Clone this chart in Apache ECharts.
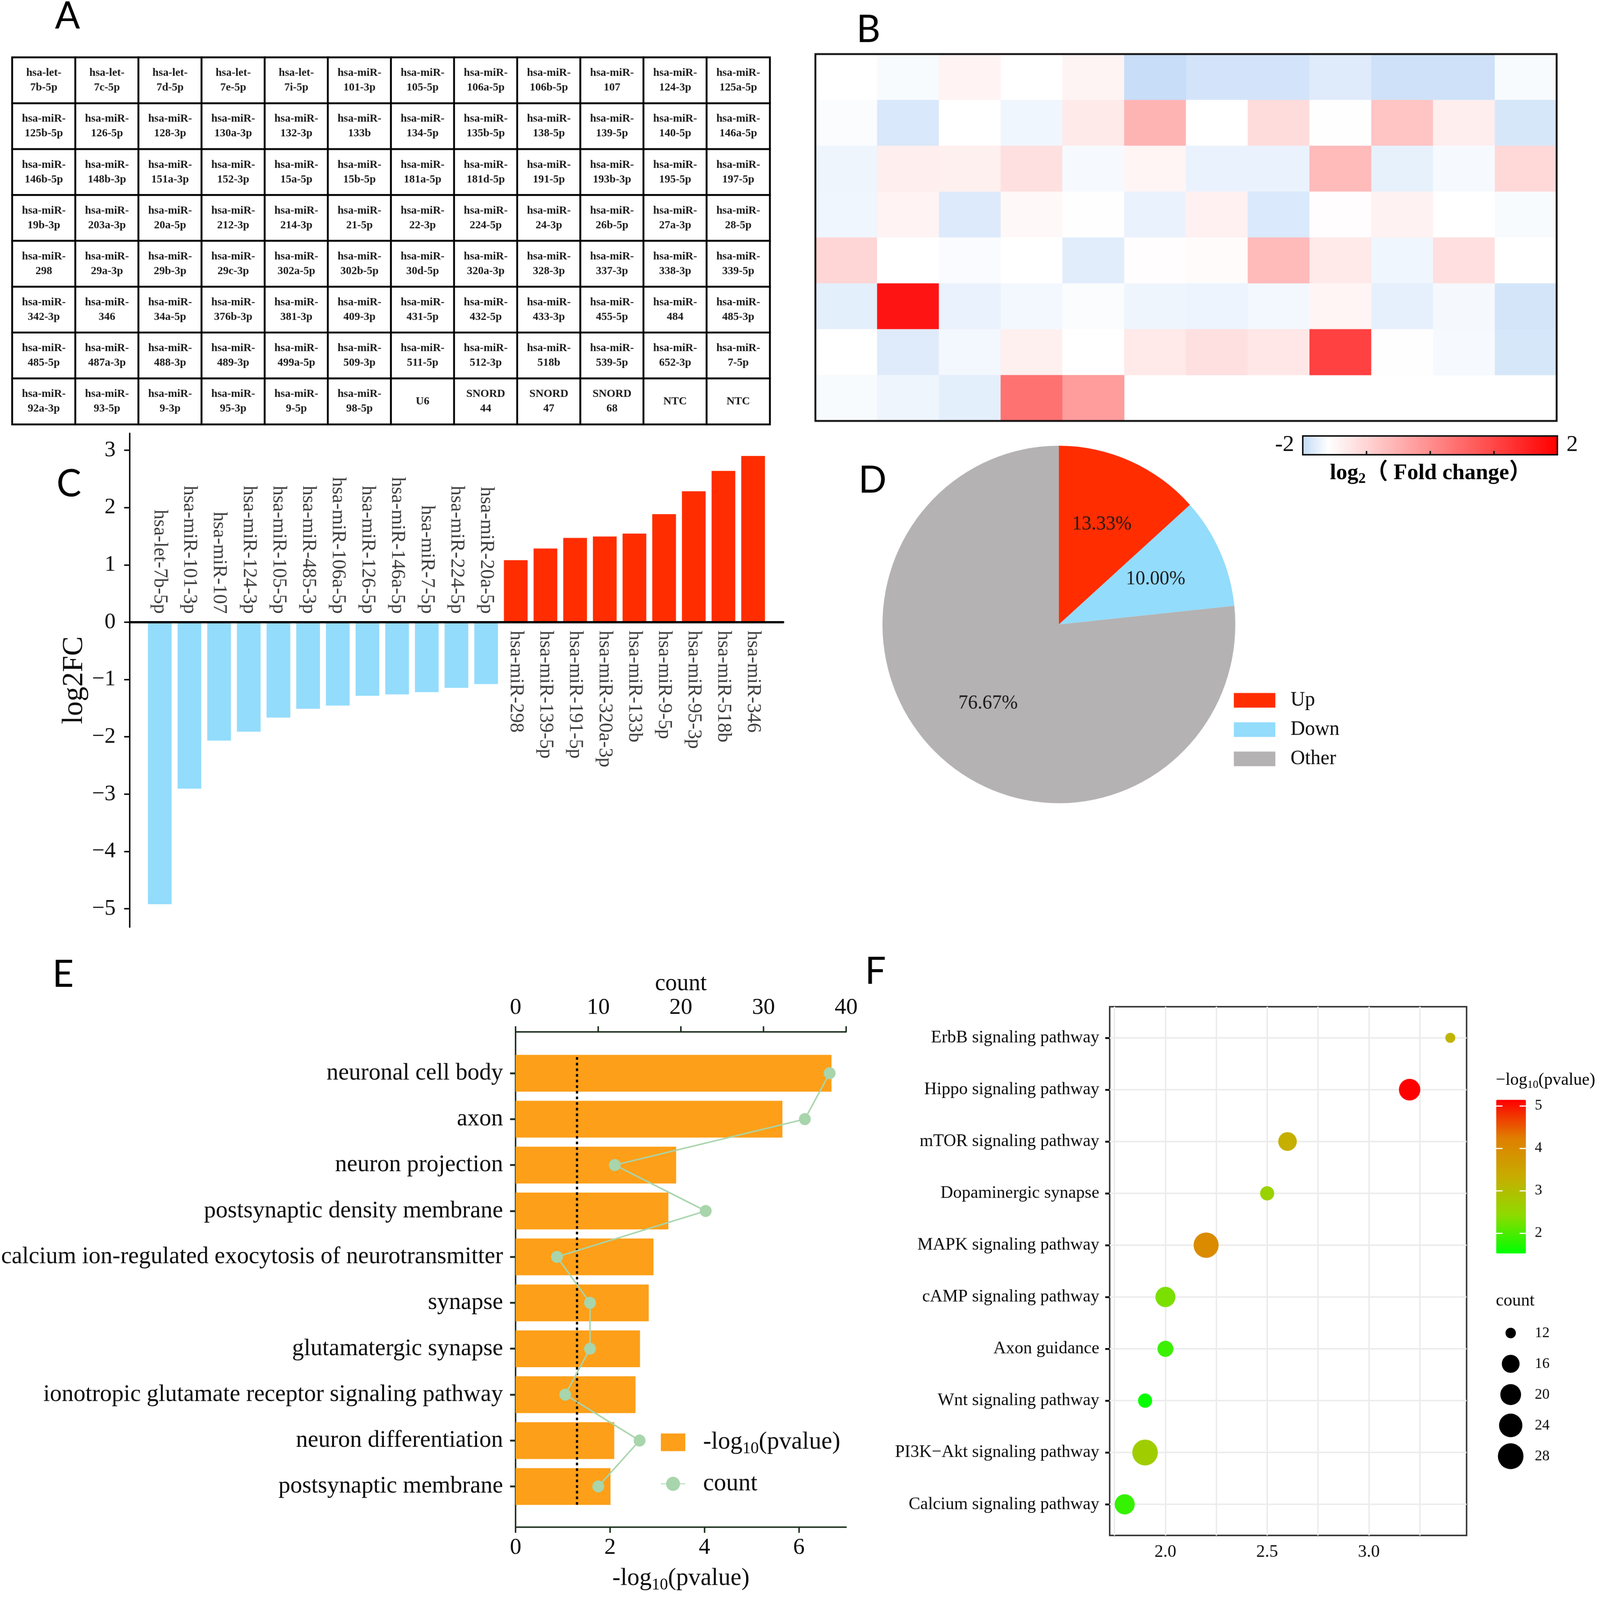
<!DOCTYPE html>
<html><head><meta charset="utf-8">
<style>html,body{margin:0;padding:0;background:#fff;overflow:hidden}#c{width:4317px;height:4261px;transform-origin:0 0}</style>
<script src="https://cdn.jsdelivr.net/npm/echarts@6/dist/echarts.min.js"></script>
</head><body><div id="c"></div>
<script>
// ---------- Panel A ----------
const P='hsa-miR-\n';
const plateRows=[
 ['hsa-let-\n7b-5p','hsa-let-\n7c-5p','hsa-let-\n7d-5p','hsa-let-\n7e-5p','hsa-let-\n7i-5p',P+'101-3p',P+'105-5p',P+'106a-5p',P+'106b-5p',P+'107',P+'124-3p',P+'125a-5p'],
 [P+'125b-5p',P+'126-5p',P+'128-3p',P+'130a-3p',P+'132-3p',P+'133b',P+'134-5p',P+'135b-5p',P+'138-5p',P+'139-5p',P+'140-5p',P+'146a-5p'],
 [P+'146b-5p',P+'148b-3p',P+'151a-3p',P+'152-3p',P+'15a-5p',P+'15b-5p',P+'181a-5p',P+'181d-5p',P+'191-5p',P+'193b-3p',P+'195-5p',P+'197-5p'],
 [P+'19b-3p',P+'203a-3p',P+'20a-5p',P+'212-3p',P+'214-3p',P+'21-5p',P+'22-3p',P+'224-5p',P+'24-3p',P+'26b-5p',P+'27a-3p',P+'28-5p'],
 [P+'298',P+'29a-3p',P+'29b-3p',P+'29c-3p',P+'302a-5p',P+'302b-5p',P+'30d-5p',P+'320a-3p',P+'328-3p',P+'337-3p',P+'338-3p',P+'339-5p'],
 [P+'342-3p',P+'346',P+'34a-5p',P+'376b-3p',P+'381-3p',P+'409-3p',P+'431-5p',P+'432-5p',P+'433-3p',P+'455-5p',P+'484',P+'485-3p'],
 [P+'485-5p',P+'487a-3p',P+'488-3p',P+'489-3p',P+'499a-5p',P+'509-3p',P+'511-5p',P+'512-3p',P+'518b',P+'539-5p',P+'652-3p',P+'7-5p'],
 [P+'92a-3p',P+'93-5p',P+'9-3p',P+'95-3p',P+'9-5p',P+'98-5p','U6','SNORD\n44','SNORD\n47','SNORD\n68','NTC','NTC']
];
// ---------- Panel B ----------
const heatRows=[
 [-1.6,-1.65,-1.43,-1.6,-1.44,-1.98,-1.9,-1.9,-1.82,-1.93,-1.93,-1.65],
 [-1.63,-1.86,-1.6,-1.7,-1.30,-0.54,-1.6,-1.11,-1.61,-0.77,-1.36,-1.87],
 [-1.71,-1.36,-1.39,-1.16,-1.66,-1.46,-1.74,-1.74,-0.63,-1.76,-1.66,-1.05],
 [-1.70,-1.43,-1.83,-1.5,-1.58,-1.74,-1.40,-1.85,-1.57,-1.42,-1.6,-1.65],
 [-1.02,-1.6,-1.64,-1.6,-1.8,-1.57,-1.54,-0.63,-1.28,-1.7,-1.15,-1.6],
 [-1.78,1.72,-1.74,-1.68,-1.63,-1.71,-1.72,-1.68,-1.46,-1.77,-1.67,-1.89],
 [-1.6,-1.82,-1.68,-1.39,-1.6,-1.28,-1.16,-1.25,1.08,-1.58,-1.66,-1.87],
 [-1.65,-1.71,-1.78,0.38,-0.2,null,null,null,null,null,null,null]
];
const heatColors=['#c4dbf8','#ffffff','#ffe3e3','#ffc6c6','#ffaaaa','#ff8e8e','#ff7171','#ff5555','#ff3939','#ff1c1c','#ff0000'];
const heatTicks=[-2,-1,0,1,2];
// ---------- Panel C ----------
const downNames=['hsa-let-7b-5p','hsa-miR-101-3p','hsa-miR-107','hsa-miR-124-3p','hsa-miR-105-5p','hsa-miR-485-3p','hsa-miR-106a-5p','hsa-miR-126-5p','hsa-miR-146a-5p','hsa-miR-7-5p','hsa-miR-224-5p','hsa-miR-20a-5p'];
const downValues=[-4.92,-2.905,-2.065,-1.91,-1.665,-1.51,-1.455,-1.285,-1.26,-1.22,-1.145,-1.08];
const upNames=['hsa-miR-298','hsa-miR-139-5p','hsa-miR-191-5p','hsa-miR-320a-3p','hsa-miR-133b','hsa-miR-9-5p','hsa-miR-95-3p','hsa-miR-518b','hsa-miR-346'];
const upValues=[1.083,1.286,1.47,1.495,1.545,1.885,2.285,2.64,2.90];
const fcTicks=[-5,-4,-3,-2,-1,0,1,2,3];
// ---------- Panel D ----------
const pieNames=['Up','Down','Other'];
const pieValues=[13.33,10.00,76.67];
const pieColors=['#ff2d00','#93dcfc','#b4b2b2'];
const pieLabelXY=[[2973,1396],[3118,1542],[2666,1873]];
// ---------- Panel E ----------
const goTerms=['neuronal cell body','axon','neuron projection','postsynaptic density membrane','calcium ion-regulated exocytosis of neurotransmitter','synapse','glutamatergic synapse','ionotropic glutamate receptor signaling pathway','neuron differentiation','postsynaptic membrane'];
const goP=[6.69,5.65,3.40,3.235,2.92,2.82,2.635,2.54,2.09,2.01];
const goCount=[38,35,12,23,5,9,9,6,15,10];
const goCut=1.3;
// ---------- Panel F ----------
const kegg=['ErbB signaling pathway','Hippo signaling pathway','mTOR signaling pathway','Dopaminergic synapse','MAPK signaling pathway','cAMP signaling pathway','Axon guidance','Wnt signaling pathway','PI3K\u2212Akt signaling pathway','Calcium signaling pathway'];
const keggRatio=[3.4,3.2,2.6,2.5,2.2,2.0,2.0,1.9,1.9,1.8];
const keggP=[3.2,5.14,3.3,2.6,4.0,2.3,1.9,1.55,2.7,1.85];
const keggCount=[11.5,21,17,14,27,19,15,14,28,19];
const sizeLevels=[12,16,20,24,28];
const sizeDiam=[28,48,56,63,69];
const keggColors=['#00ff00','#8fdb00','#c7ad00','#e07f00','#ff0000'];
const keggPTicks=[2,3,4,5];

const SERIF="'Liberation Serif','Noto Sans CJK SC',serif";
const INK='#0a0a0a';
const sizeOf=c=>{
  if(c<=sizeLevels[0])return sizeDiam[0]*c/sizeLevels[0];
  for(let i=1;i<sizeLevels.length;i++){
    if(c<=sizeLevels[i]){const t=(c-sizeLevels[i-1])/(sizeLevels[i]-sizeLevels[i-1]);return sizeDiam[i-1]+t*(sizeDiam[i]-sizeDiam[i-1]);}
  }
  return sizeDiam[sizeDiam.length-1];
};
const idx=n=>Array.from({length:n},(_,i)=>i);

const fcAll=downNames.concat(upNames), fcVals=downValues.concat(upValues);
const letter=(s,x,y)=>({type:'text',x,y,z:20,style:{text:s,font:"100px Lato",fill:'#000',textAlign:'center',textVerticalAlign:'middle'}});

const subRich=(size,sub,bold)=>({
  a:{fontFamily:SERIF,fontSize:size,color:INK,lineHeight:size*1.2,fontWeight:bold?'bold':'normal'},
  s:{fontFamily:SERIF,fontSize:sub,color:INK,lineHeight:size*1.2,verticalAlign:'bottom',fontWeight:bold?'bold':'normal'}
});

const option={
 animation:false,backgroundColor:'#fff',
 grid:[
  {left:33,top:153,width:2044,height:977},
  {left:2200,top:144,width:2000,height:977,show:true,backgroundColor:'transparent',borderColor:'#111',borderWidth:5,z:6},
  {left:350,top:1154,width:1763,height:1315},
  {left:1391,top:2748,width:892,height:1319},
  {left:1391,top:2797,width:892,height:1223},
  {left:2994,top:2681,width:963,height:1408,show:true,backgroundColor:'transparent',borderColor:'#333',borderWidth:4},
  {left:4066,top:3550,width:20,height:328},
  {left:4037,top:2929,width:80,height:409},
  {left:3515,top:1161,width:687,height:50,show:true,backgroundColor:'transparent',borderColor:'#111',borderWidth:4,z:6}
 ],
 xAxis:[
  {gridIndex:0,type:'category',data:idx(12),show:false},
  {gridIndex:1,type:'category',data:idx(12),show:false},
  {gridIndex:2,type:'value',min:-1.0125,max:21.0125,z:5,
    axisLine:{show:true,onZero:true,lineStyle:{color:'#000',width:6}},axisTick:{show:false},axisLabel:{show:false},splitLine:{show:false}},
  {gridIndex:3,type:'value',position:'bottom',min:0,max:7,interval:1,
    axisLine:{show:true,onZero:false,lineStyle:{color:'#1d2f1e',width:4}},
    axisTick:{show:true,length:15,customValues:[0,2,4,6],lineStyle:{color:'#1d2f1e',width:4}},
    axisLabel:{customValues:[0,2,4,6],margin:24,fontFamily:SERIF,fontSize:62,color:INK},splitLine:{show:false},
    name:'{a|-log}{s|10}{a|(pvalue)}',nameLocation:'middle',nameGap:97,nameTextStyle:{rich:subRich(66,44)}},
  {gridIndex:3,type:'value',position:'top',min:0,max:40,interval:10,
    axisLine:{show:true,onZero:false,lineStyle:{color:'#1d2f1e',width:4}},
    axisTick:{show:true,length:15,lineStyle:{color:'#1d2f1e',width:4}},
    axisLabel:{margin:33,fontFamily:SERIF,fontSize:62,color:INK},splitLine:{show:false},
    name:'count',nameLocation:'middle',nameGap:93,nameTextStyle:{fontFamily:SERIF,fontSize:63,color:INK}},
  {gridIndex:4,type:'value',min:0,max:7,show:false,splitLine:{show:false}},
  {gridIndex:5,type:'value',min:1.726,max:3.48,
    axisLine:{show:false},axisTick:{show:false,customValues:[1.75,2,2.25,2.5,2.75,3,3.25]},
    axisLabel:{customValues:[2,2.5,3],margin:21,fontFamily:SERIF,fontSize:47,color:INK,formatter:v=>v.toFixed(1)},
    splitLine:{show:true,lineStyle:{color:'#ececec',width:4}}},
  {gridIndex:6,type:'value',min:-1,max:1,show:false,splitLine:{show:false}},
  {gridIndex:7,type:'value',min:0,max:1,show:false,splitLine:{show:false}},
  {gridIndex:8,type:'value',min:-2,max:2,z:10,position:'top',
    axisLine:{show:false},axisTick:{show:true,length:10,customValues:heatTicks,lineStyle:{color:'#111',width:4}},
    axisLabel:{show:false},splitLine:{show:false}}
 ],
 yAxis:[
  {gridIndex:0,type:'category',data:idx(8),inverse:true,show:false},
  {gridIndex:1,type:'category',data:idx(8),inverse:true,show:false},
  {gridIndex:2,type:'value',min:-5.32,max:3.295,
    axisLine:{show:true,onZero:false,lineStyle:{color:'#111',width:4}},
    axisTick:{show:true,length:15,customValues:fcTicks,lineStyle:{color:'#111',width:4}},
    axisLabel:{customValues:fcTicks,margin:38,fontFamily:SERIF,fontSize:60,color:INK,formatter:v=>String(v).replace('-','\u2212')},
    splitLine:{show:false},
    name:'log2FC',nameLocation:'middle',nameRotate:90,nameGap:110,nameTextStyle:{fontFamily:SERIF,fontSize:78,color:INK}},
  {gridIndex:3,type:'value',inverse:true,min:-0.9,max:9.887,
    axisLine:{show:true,onZero:false,lineStyle:{color:'#1d2f1e',width:4}},
    axisTick:{show:true,length:15,customValues:idx(10),lineStyle:{color:'#1d2f1e',width:5}},
    axisLabel:{customValues:idx(10),margin:34,fontFamily:SERIF,fontSize:64,color:INK,formatter:v=>goTerms[v]},
    splitLine:{show:false}},
  {gridIndex:4,type:'category',data:goTerms,inverse:true,show:false},
  {gridIndex:5,type:'value',inverse:true,min:-0.6,max:9.6,
    axisLine:{show:false},
    axisTick:{show:true,length:12,customValues:idx(10),lineStyle:{color:'#111',width:5}},
    axisLabel:{customValues:idx(10),margin:28,fontFamily:SERIF,fontSize:47,color:INK,formatter:v=>kegg[v]},
    splitLine:{show:true,lineStyle:{color:'#ececec',width:4}}},
  {gridIndex:6,type:'value',inverse:true,min:12,max:28,position:'right',
    axisLine:{show:false},axisTick:{show:false},
    axisLabel:{customValues:sizeLevels,margin:55,fontFamily:SERIF,fontSize:40,color:INK},splitLine:{show:false}},
  {gridIndex:7,type:'value',min:1.52,max:5.14,position:'left',z:10,
    axisLine:{show:false},axisTick:{show:true,inside:true,length:17,customValues:keggPTicks,lineStyle:{color:'#fff',width:3}},
    axisLabel:{show:false},splitLine:{show:false}},
  {gridIndex:7,type:'value',min:1.52,max:5.14,position:'right',z:10,
    axisLine:{show:false},axisTick:{show:true,inside:true,length:17,customValues:keggPTicks,lineStyle:{color:'#fff',width:3}},
    axisLabel:{customValues:keggPTicks,margin:24,fontFamily:SERIF,fontSize:40,color:INK},splitLine:{show:false}},
  {gridIndex:8,type:'value',min:0,max:1,show:false,splitLine:{show:false}}
 ],
 visualMap:[
  {type:'continuous',seriesIndex:1,dimension:2,min:-2,max:2,left:3515,top:1161,padding:0,orient:'horizontal',
   itemWidth:50,itemHeight:687,calculable:false,hoverLink:false,showLabel:false,text:null,inRange:{color:heatColors}},
  {type:'continuous',seriesIndex:7,dimension:2,min:1.52,max:5.14,left:4037,top:2929,padding:0,orient:'vertical',
   itemWidth:80,itemHeight:409,calculable:false,hoverLink:false,showLabel:false,text:null,inRange:{color:keggColors}}
 ],
 legend:[
  {data:pieNames,orient:'vertical',left:3329,top:1838,padding:0,icon:'rect',itemWidth:112,itemHeight:39,itemGap:24,selectedMode:false,
   textStyle:{fontFamily:SERIF,fontSize:54,color:INK,padding:[0,0,0,36]}},
  {data:[{name:'-log10(pvalue)',icon:'rect'},{name:'count'}],orient:'vertical',left:1782,top:3808,padding:0,itemWidth:66,itemHeight:47,itemGap:38,selectedMode:false,
   formatter:n=>n==='count'?'{a|count}':'{a|-log}{s|10}{a|(pvalue)}',
   textStyle:{padding:[0,0,0,43],rich:subRich(66,44)}}
 ],
 series:[
  {type:'heatmap',xAxisIndex:0,yAxisIndex:0,
   data:plateRows.flatMap((r,y)=>r.map((n,x)=>({value:[x,y,1],name:n}))),
   itemStyle:{color:'#fff',borderColor:'#000',borderWidth:5},
   label:{show:true,formatter:p=>p.name,fontFamily:SERIF,fontWeight:'bold',fontSize:30,lineHeight:39,color:'#1a1a1a'},
   emphasis:{disabled:true}},
  {type:'heatmap',xAxisIndex:1,yAxisIndex:1,
   data:heatRows.flatMap((r,y)=>r.map((v,x)=>[x,y,v])).filter(d=>d[2]!==null),
   itemStyle:{borderWidth:0},emphasis:{disabled:true}},
  {type:'bar',xAxisIndex:2,yAxisIndex:2,barWidth:64,
   data:fcVals.map((v,i)=>({value:[i,v],itemStyle:{color:v<0?pieColors[1]:pieColors[0]}}))},
  {type:'scatter',xAxisIndex:2,yAxisIndex:2,symbolSize:1,itemStyle:{color:'transparent'},clip:false,
   data:fcAll.map((n,i)=>{const neg=fcVals[i]<0;return{
     value:[i,0],name:n,
     label:{show:true,formatter:'{b}',rotate:-90,position:neg?'top':'bottom',distance:22,align:neg?'right':'left',verticalAlign:'middle',fontFamily:SERIF,fontSize:52,color:INK}
   };})},
  {type:'pie',name:'D',center:[2857,1663],radius:476,startAngle:90,clockwise:true,
   data:pieNames.map((n,i)=>({name:n,value:pieValues[i],itemStyle:{color:pieColors[i]}})),
   label:{show:true,position:'inside',formatter:p=>p.value.toFixed(2)+'%',fontFamily:SERIF,fontSize:52,color:'#1a1a1a'},
   labelLine:{show:false},
   labelLayout:p=>({x:pieLabelXY[p.dataIndex][0],y:pieLabelXY[p.dataIndex][1],align:'center',verticalAlign:'middle'}),
   emphasis:{disabled:true}},
  {type:'bar',name:'-log10(pvalue)',xAxisIndex:5,yAxisIndex:4,barWidth:98,data:goP,itemStyle:{color:'#fd9f18'},z:1},
  {type:'line',name:'count',xAxisIndex:4,yAxisIndex:3,z:4,
   data:goCount.map((c,i)=>[c,i]),symbol:'circle',symbolSize:32,
   lineStyle:{color:'#a8d5ac',width:4},itemStyle:{color:'#a8d5ac'}},
  {type:'scatter',xAxisIndex:6,yAxisIndex:5,clip:false,z:4,
   data:keggRatio.map((x,i)=>[x,i,keggP[i],keggCount[i]]),
   symbolSize:v=>sizeOf(v[3]),itemStyle:{opacity:1},emphasis:{disabled:true}},
  {type:'scatter',xAxisIndex:7,yAxisIndex:6,clip:false,
   data:sizeLevels.map(c=>[0,c]),symbolSize:v=>sizeOf(v[1]),itemStyle:{color:'#000',opacity:1}},
  {type:'line',xAxisIndex:3,yAxisIndex:3,z:3,symbol:'none',
   data:[[goCut,-0.35],[goCut,9.43]],lineStyle:{color:'#000',width:6,type:[7,8]}},
  {type:'scatter',xAxisIndex:8,yAxisIndex:7,data:[],silent:true},
  {type:'scatter',xAxisIndex:8,yAxisIndex:8,data:[],silent:true},
  {type:'scatter',xAxisIndex:9,yAxisIndex:9,data:[],silent:true}
 ],
 graphic:{elements:[
  letter('A',182,44),letter('B',2343,80),letter('C',186,1290),letter('D',2354,1280),letter('E',170,2596),letter('F',2362,2588),
  {type:'text',x:3466,y:1185,z:20,style:{text:'-2',font:"62px 'Liberation Serif'",fill:INK,textAlign:'center',textVerticalAlign:'middle'}},
  {type:'text',x:4242,y:1185,z:20,style:{text:'2',font:"62px 'Liberation Serif'",fill:INK,textAlign:'center',textVerticalAlign:'middle'}},
  {type:'text',x:3860,y:1260,z:20,style:{text:'{a|log}{s|2}{a|\uff08 Fold change\uff09}',rich:subRich(60,40,true),textAlign:'center',textVerticalAlign:'middle'}},
  {type:'text',x:4036,y:2877,z:20,style:{text:'{a|\u2212log}{s|10}{a|(pvalue)}',rich:subRich(46,30),textAlign:'left',textVerticalAlign:'middle'}},
  {type:'text',x:4036,y:3465,z:20,style:{text:'count',font:"47px 'Liberation Serif'",fill:INK,textAlign:'left',textVerticalAlign:'middle'}}
 ]}
};
const W=4317,H=4261;
const el=document.getElementById('c');
// The actual viewport may be smaller than the reference: fit the whole figure into it.
el.style.transform='scale('+Math.min(1,innerWidth/W)+','+Math.min(1,innerHeight/H)+')';
const chart=echarts.init(el,null,{renderer:'canvas',width:W,height:H});
chart.setOption(option);
</script></body></html>
